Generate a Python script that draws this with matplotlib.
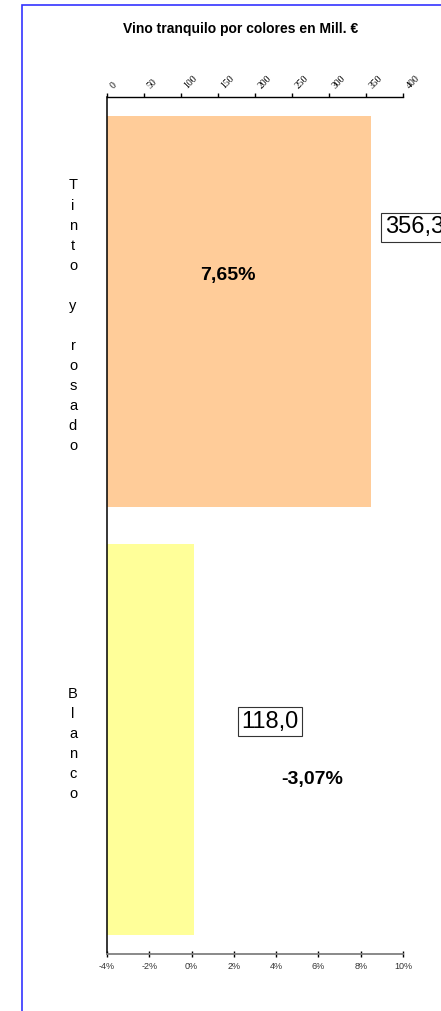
import numpy as np
import matplotlib
matplotlib.use("Agg")
import matplotlib.pyplot as plt
from matplotlib.patches import Rectangle
from matplotlib.transforms import ScaledTranslation

plt.rcParams['font.family'] = ['Liberation Sans', 'DejaVu Sans']

# data
categorias = ["Tinto y rosado", "Blanco"]
valores = [356.3, 118.0]
etiquetas_valor = ["356,3", "118,0"]
variaciones = ["7,65%", "-3,07%"]
colores = ["#FFCC99", "#FFFF99"]
ticks_valor = [0, 50, 100, 150, 200, 250, 300, 350, 400]
ticks_pct = [-4, -2, 0, 2, 4, 6, 8, 10]
ticks_pct_txt = ["-4%", "-2%", "0%", "2%", "4%", "6%", "8%", "10%"]

# label offsets (pixels) from bar end
off_valor = [(14, 84), (47, 18)]
off_var = [(-143, 36), (118, -40)]

fig = plt.figure(figsize=(4.41, 10.11), dpi=100)
ax = fig.add_axes([107 / 441, 1 - 954 / 1011, 296 / 441, 857 / 1011])
ax2 = ax.twiny()

y = np.arange(len(categorias))
ax.barh(y, valores, height=0.912, color=colores, edgecolor='none')
ax.set_ylim(1.5, -0.5)
ax.set_xlim(0, 400)

# top axis (values)
ax.xaxis.tick_top()
ax.set_xticks(ticks_valor)
ax.set_xticklabels([str(t) for t in ticks_valor], rotation=45, ha='left',
                   va='bottom', rotation_mode='anchor',
                   family=['Liberation Serif'], fontsize=7)
ax.tick_params(axis='x', direction='out', length=3, width=1, pad=2.0, colors='black')
for lab in ax.get_xticklabels():
    lab.set_transform(lab.get_transform() + ScaledTranslation(8 / 100, 0, fig.dpi_scale_trans))

# categories as stacked letters
ax.set_yticks(y)
ax.set_yticklabels(['\n'.join(list(c)) for c in categorias], fontsize=10.5,
                   linespacing=1.55, ha='center')
ax.tick_params(axis='y', length=0, pad=24.5)

ax.spines['right'].set_visible(False)
ax.spines['bottom'].set_visible(False)
ax.spines['top'].set_linewidth(1)
ax.spines['left'].set_linewidth(1.1)

# bottom axis (percent)
ax2.set_xlim(-4, 10)
ax2.xaxis.tick_bottom()
ax2.set_xticks(ticks_pct)
ax2.set_xticklabels(ticks_pct_txt, fontsize=6.5, color='#333333')
ax2.tick_params(axis='x', direction='inout', length=4, width=1, pad=4, colors='black',
                labelcolor='#333333')
for s in ['top', 'left', 'right']:
    ax2.spines[s].set_visible(False)
ax2.spines['bottom'].set_visible(True)
ax2.spines['bottom'].set_color('#808080')
ax2.spines['bottom'].set_linewidth(1.3)

# labels
for i in range(len(categorias)):
    ax.annotate(etiquetas_valor[i], xy=(valores[i], y[i]), xytext=off_valor[i],
                textcoords='offset pixels', ha='left', va='center', fontsize=17,
                bbox=dict(boxstyle='square,pad=0.15', fc='white', ec='#333333', lw=0.8),
                annotation_clip=False)
    ax.annotate(variaciones[i], xy=(valores[i], y[i]), xytext=off_var[i],
                textcoords='offset pixels', ha='center', va='center', fontsize=14,
                fontweight='bold')

fig.text(241 / 441, 1 - 29 / 1011, "Vino tranquilo por colores en Mill. €",
         ha='center', va='center', fontsize=10, fontweight='bold')

# blue frame
fig.patches.append(Rectangle((22 / 441, -0.1), 1.2, 1.1 - 5 / 1011, transform=fig.transFigure,
                             fill=False, ec='#3333FF', lw=1.2, clip_on=False))

fig.savefig("out.png", dpi=100)
